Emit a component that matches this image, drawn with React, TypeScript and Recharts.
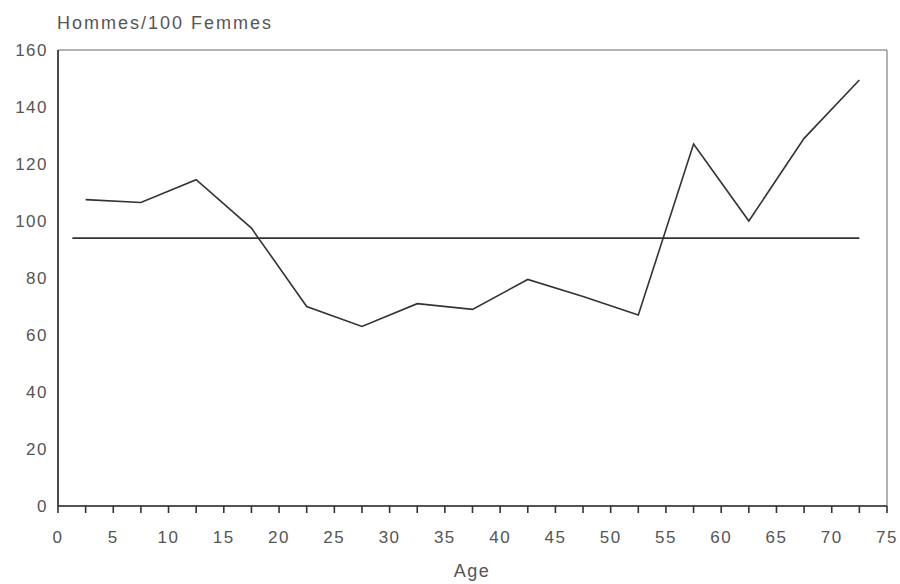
import { LineChart, Line, XAxis, YAxis, ReferenceArea } from "recharts";

const ages = [2.5, 7.5, 12.5, 17.5, 22.5, 27.5, 32.5, 37.5, 42.5, 47.5, 52.5, 57.5, 62.5, 67.5, 72.5];
const ratio = [107.5, 106.5, 114.5, 97.5, 70, 63, 71, 69, 79.5, 73.5, 67, 127, 100, 129, 149.5];
const avgAges = [1.3, 72.5];
const avgRatio = [94, 94];
const xTicks = [0, 2.5, 5, 7.5, 10, 12.5, 15, 17.5, 20, 22.5, 25, 27.5, 30, 32.5, 35, 37.5, 40, 42.5, 45, 47.5, 50, 52.5, 55, 57.5, 60, 62.5, 65, 67.5, 70, 72.5, 75];
const yTicks = [0, 20, 40, 60, 80, 100, 120, 140, 160];

const series = ages.map((a, i) => ({ age: a, v: ratio[i] }));
const avg = avgAges.map((a, i) => ({ age: a, v: avgRatio[i] }));

const font = "'Liberation Sans', Arial, sans-serif";
const textColor = "#555";
const ink = "#333";

export default function App() {
  const tick = { fontSize: 17, fill: textColor, fontFamily: font, letterSpacing: 1.5 };
  return (
    <div style={{ position: "absolute", left: 0, top: 0, width: 900, height: 584, background: "#fff" }}>
      <LineChart width={900} height={584} margin={{ top: 50, right: 13, bottom: 38, left: 0 }}>
        <ReferenceArea x1={0} x2={75} y1={0} y2={160} fill="none" stroke="#666" strokeWidth={1} ifOverflow="visible" />
        <XAxis
          dataKey="age"
          type="number"
          domain={[0, 75]}
          ticks={xTicks}
          interval={0}
          tickFormatter={(v: number) => (v % 5 === 0 ? String(v) : "")}
          height={40}
          tickSize={7}
          tickMargin={18}
          tick={tick}
          stroke={ink}
          strokeWidth={1.6}
        />
        <YAxis
          type="number"
          domain={[0, 160]}
          ticks={yTicks}
          interval={0}
          width={58}
          tickLine={false}
          tickMargin={4}
          tick={tick}
          stroke={ink}
          strokeWidth={1.6}
        />
        <Line data={avg} dataKey="v" stroke={ink} strokeWidth={1.6} dot={false} isAnimationActive={false} />
        <Line data={series} dataKey="v" stroke={ink} strokeWidth={1.6} dot={false} isAnimationActive={false} />
      </LineChart>
      <svg width={900} height={584} style={{ position: "absolute", left: 0, top: 0, pointerEvents: "none" }}>
        <text x={57} y={29} fontSize={18} letterSpacing={2} fill={textColor} fontFamily={font}>
          Hommes/100 Femmes
        </text>
        <text x={472} y={577} fontSize={18} letterSpacing={1.5} fill={textColor} fontFamily={font} textAnchor="middle">
          Age
        </text>
      </svg>
    </div>
  );
}
